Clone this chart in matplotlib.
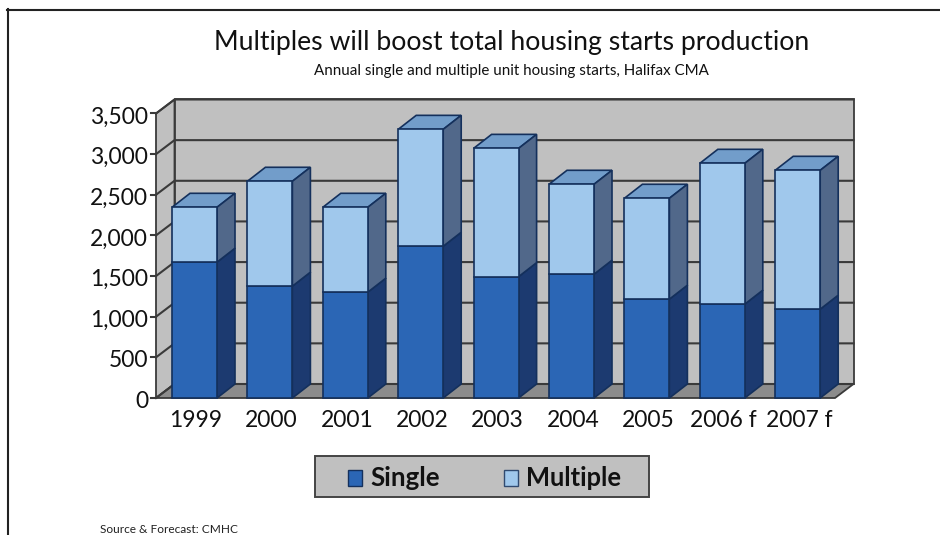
import matplotlib
matplotlib.use("Agg")
import matplotlib.pyplot as plt
from matplotlib.patches import Polygon, Rectangle

years = ["1999", "2000", "2001", "2002", "2003", "2004", "2005", "2006 f", "2007 f"]
single = [1671, 1376, 1302, 1867, 1493, 1523, 1216, 1155, 1093]
multiple = [675, 1290, 1044, 1438, 1578, 1106, 1241, 1732, 1708]
y_ticks = [0, 500, 1000, 1500, 2000, 2500, 3000, 3500]

W, H = 940, 535
BAR_W = 45.0 / 75.4   # in category units
# front plane of the box in pixels
X0, X1, Y0, Y1 = 156.0, 835.0, 398.0, 113.5
FRONT_PAD = (172.0 + 22.5 - X0) / 75.4
PX_X = 75.4           # pixels per category
PX_Y = (Y0 - Y1) / 3500.0

# 3d depth of the walls and of the bars, as data offsets
WALL_DX = 18.5 / PX_X
WALL_DY = 14.0 / PX_Y
BAR_DX = 18.0 / PX_X
BAR_DY = 14.0 / PX_Y

LINE = "#3a3a3a"
WALL = "#c0c0c0"
FLOOR = "#8c8c8c"
BAR_LINE = "#14305c"
TEXT = "#111111"

plt.rcParams["font.family"] = ["Lato", "DejaVu Sans"]

fig = plt.figure(figsize=(W / 100, H / 100), dpi=100, facecolor="white")
ax = fig.add_axes([X0 / W, 1 - Y0 / H, (X1 - X0) / W, (Y0 - Y1) / H])
ax.set_xlim(-FRONT_PAD, -FRONT_PAD + (X1 - X0) / PX_X)
ax.set_ylim(0, 3500)
ax.axis("off")

xl, xr = ax.get_xlim()
top = y_ticks[-1]

# walls and floor
ax.add_patch(Polygon([(xl, 0), (xl + WALL_DX, WALL_DY), (xl + WALL_DX, top + WALL_DY), (xl, top)],
                     fc=WALL, ec=LINE, lw=1.3, clip_on=False, zorder=1))
ax.add_patch(Rectangle((xl + WALL_DX, WALL_DY), xr - xl, top, fc=WALL, ec=LINE, lw=1.3,
                       clip_on=False, zorder=1))
ax.add_patch(Polygon([(xl, 0), (xr, 0), (xr + WALL_DX, WALL_DY), (xl + WALL_DX, WALL_DY)],
                     fc=FLOOR, ec=LINE, lw=1.3, clip_on=False, zorder=1))

# gridlines, y ticks and labels
for v in y_ticks:
    ax.plot([xl, xl + WALL_DX, xr + WALL_DX], [v, v + WALL_DY, v + WALL_DY], color=LINE, lw=1.5,
            clip_on=False, zorder=2, solid_joinstyle="miter")
    ax.plot([xl - 5 / PX_X, xl], [v, v], color=LINE, lw=1.5, clip_on=False, zorder=2)
    ax.text(xl - 8 / PX_X, v - 10 / PX_Y, f"{v:,}", ha="right", va="baseline", fontsize=16.5,
            color=TEXT, clip_on=False)


def draw_segment(x, low, high, front, side, cap=None):
    left, right = x - BAR_W / 2, x + BAR_W / 2
    if cap is not None:
        ax.add_patch(Polygon([(left, high), (right, high), (right + BAR_DX, high + BAR_DY),
                              (left + BAR_DX, high + BAR_DY)], fc=cap, ec=BAR_LINE, lw=1.2,
                             clip_on=False, zorder=3, joinstyle="miter"))
    ax.add_patch(Polygon([(right, low), (right + BAR_DX, low + BAR_DY), (right + BAR_DX, high + BAR_DY),
                          (right, high)], fc=side, ec=BAR_LINE, lw=1.2, clip_on=False, zorder=3,
                         joinstyle="miter"))
    ax.add_patch(Rectangle((left, low), BAR_W, high - low, fc=front, ec=BAR_LINE, lw=1.2,
                           clip_on=False, zorder=4))


for i, (s, m) in enumerate(zip(single, multiple)):
    draw_segment(i, 0, s, "#2b66b5", "#1c3a70")
    draw_segment(i, s, s + m, "#a0c8ec", "#51688a", cap="#729dca")

# category labels
for i, label in enumerate(years):
    ax.text(i + 0.02, -29 / PX_Y, label, ha="center", va="baseline", fontsize=16.5, color=TEXT,
            clip_on=False)

# page frame
fig.add_artist(plt.Line2D([8 / W, 8 / W], [0, 1 - 9 / H], color="#222222", lw=1.5))
fig.add_artist(plt.Line2D([7 / W, 1], [1 - 10 / H, 1 - 10 / H], color="#222222", lw=1.5))

fig.text(511.5 / W, 1 - 50 / H, "Multiples will boost total housing starts production", ha="center",
         va="baseline", fontsize=19.2, color=TEXT)
fig.text(511 / W, 1 - 75 / H, "Annual single and multiple unit housing starts, Halifax CMA", ha="center",
         va="baseline", fontsize=10.9, color=TEXT)
fig.text(100 / W, 1 - 533 / H, "Source & Forecast: CMHC", ha="left", va="baseline", fontsize=8.6,
         color="#222222")

# legend box
fig.add_artist(Rectangle((315 / W, 1 - 497 / H), 334 / W, 41 / H, fc=WALL, ec="#444444", lw=1.4,
                         transform=fig.transFigure))
fig.add_artist(Rectangle((348 / W, 1 - 486 / H), 14 / W, 16 / H, fc="#2b66b5", ec=BAR_LINE, lw=1,
                         transform=fig.transFigure))
fig.add_artist(Rectangle((504 / W, 1 - 486 / H), 14 / W, 16 / H, fc="#a0c8ec", ec="#304a70", lw=1,
                         transform=fig.transFigure))
fig.text(370 / W, 1 - 478 / H, "Single", ha="left", va="center", fontsize=18.6, fontweight="bold", color=TEXT)
fig.text(526 / W, 1 - 478 / H, "Multiple", ha="left", va="center", fontsize=18.4, fontweight="bold", color=TEXT)

fig.savefig("out.png", dpi=100)
